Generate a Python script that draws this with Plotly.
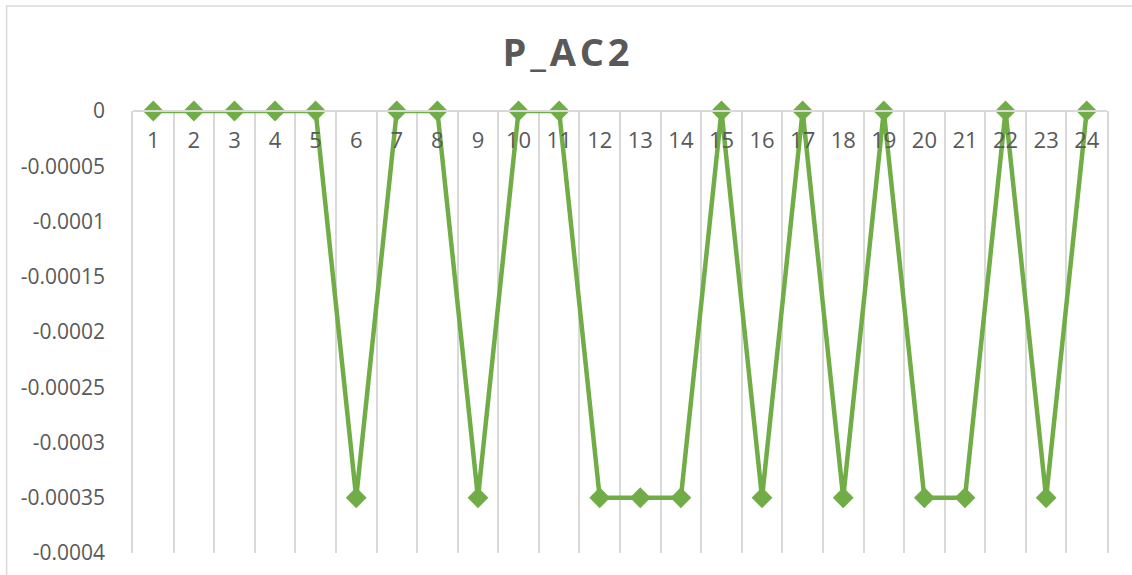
import plotly.graph_objects as go

categories = [str(i) for i in range(1, 25)]
values = [0, 0, 0, 0, 0, -0.00035, 0, 0, -0.00035, 0, 0, -0.00035, -0.00035, -0.00035,
          0, -0.00035, 0, -0.00035, 0, -0.00035, -0.00035, 0, -0.00035, 0]
y_tickvals = [0, -0.00005, -0.0001, -0.00015, -0.0002, -0.00025, -0.0003, -0.00035, -0.0004]
y_ticktext = ["0", "-0.00005", "-0.0001", "-0.00015", "-0.0002", "-0.00025", "-0.0003", "-0.00035", "-0.0004"]

W, H = 1132, 575
L, R, T, B = 132.5, 25, 111, 22
pw, ph = W - L - R, H - T - B

fig = go.Figure()
fig.add_trace(go.Scatter(
    x=categories, y=values, mode="lines+markers",
    line=dict(color="#70AD47", width=4.5),
    marker=dict(symbol="diamond", size=16, color="#70AD47"),
    cliponaxis=False, showlegend=False,
))

fig.update_layout(
    width=W, height=H,
    margin=dict(l=L, r=R, t=T, b=B, autoexpand=False),
    paper_bgcolor="white", plot_bgcolor="white",
    font=dict(family="Open Sans", color="#595959", size=20),
    title=dict(text="<b>P\u200a_\u200aA\u200aC\u200a2</b>", x=0.5, xanchor="center", xref="container",
               y=1 - 53 / H, yanchor="middle", yref="container",
               font=dict(size=38, color="#595959", family="Open Sans")),
    xaxis=dict(type="category", range=[-0.5, 23.5], tickson="boundaries",
               showgrid=True, gridcolor="#d9d9d9", gridwidth=1.5,
               showline=True, linecolor="#d9d9d9", linewidth=1.5,
               ticks="", anchor="free", position=1, side="bottom",
               tickfont=dict(size=22, color="#595959"), ticklabelstandoff=10,
               zeroline=False),
    yaxis=dict(range=[-0.0004, 0], tickvals=y_tickvals, ticktext=y_ticktext,
               showgrid=False, zeroline=False, showline=True, mirror=True,
               linecolor="#d9d9d9", linewidth=1.5, ticks="",
               tickfont=dict(size=21, color="#595959"), ticklabelstandoff=22),
)

fig.add_shape(type="rect", xref="paper", yref="paper",
              x0=(6 - L) / pw, x1=(W + 20 - L) / pw,
              y0=-(H + 20 - (H - B)) / ph, y1=(H - B - 6) / ph,
              line=dict(color="#d9d9d9", width=1.5), fillcolor="rgba(0,0,0,0)", layer="below")

fig.write_html("out.html")
